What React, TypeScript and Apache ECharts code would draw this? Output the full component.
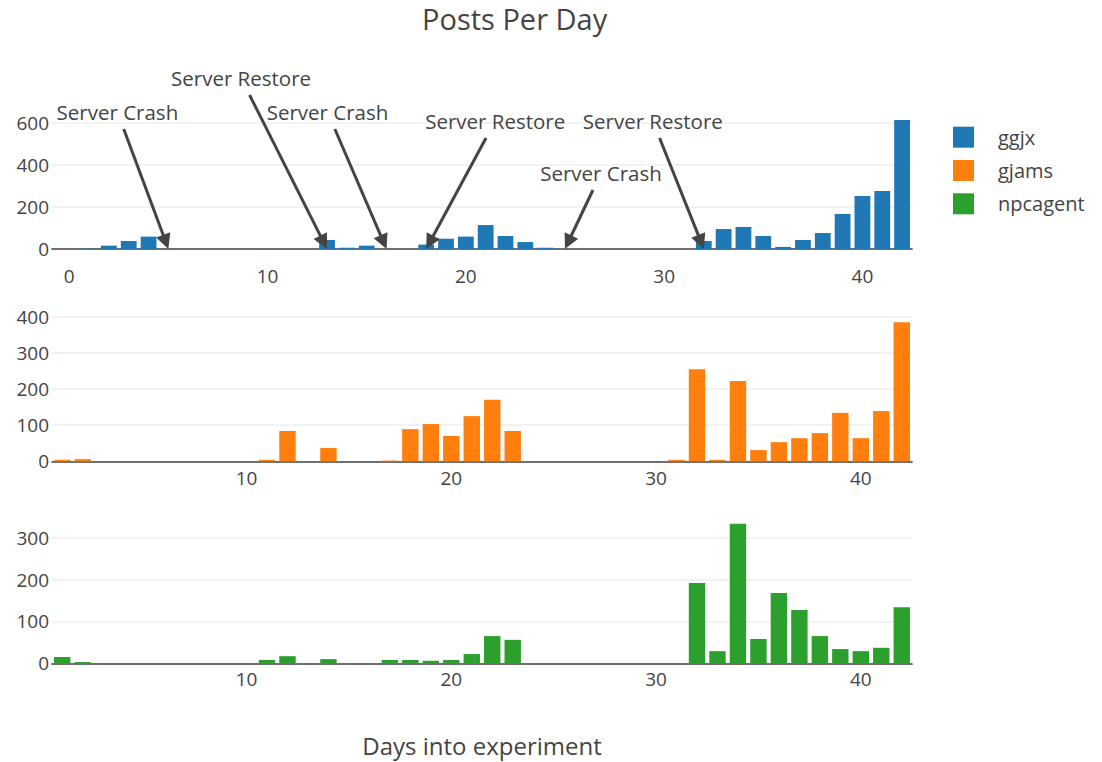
import React, { useEffect, useRef } from "react";
import * as echarts from "echarts";

// ---------- data ----------
const days = [
  1, 2, 3, 4, 5, 6, 7, 8, 9, 10, 11, 12, 13, 14, 15, 16, 17, 18, 19, 20, 21,
  22, 23, 24, 25, 26, 27, 28, 29, 30, 31, 32, 33, 34, 35, 36, 37, 38, 39, 40,
  41, 42,
];
const ggjx = [
  2, 16, 38, 59, 0, 0, 0, 0, 0, 0, 0, 0, 43, 6, 16, 0, 0, 21, 49, 59, 114, 62,
  33, 6, 0, 0, 0, 0, 0, 0, 0, 38, 95, 105, 62, 10, 43, 76, 167, 252, 276, 614,
];
const gjams = [
  4, 6, 0, 0, 0, 0, 0, 0, 0, 0, 4, 84, 0, 37, 0, 0, 2, 89, 103, 70, 125, 170,
  84, 0, 0, 0, 0, 0, 0, 0, 4, 255, 4, 222, 31, 53, 64, 78, 134, 64, 139, 385,
];
const npcagent = [
  15, 3, 0, 0, 0, 0, 0, 0, 0, 0, 8, 17, 0, 10, 0, 0, 8, 8, 6, 8, 22, 65, 56, 0,
  0, 0, 0, 0, 0, 0, 0, 192, 29, 333, 58, 168, 127, 65, 34, 29, 37, 134,
];
const seriesNames = ["ggjx", "gjams", "npcagent"];
const xTicksTop = [0, 10, 20, 30, 40];
const xTicksLower = [10, 20, 30, 40];
const yTicksTop = [0, 200, 400, 600];
const yTicksMid = [0, 100, 200, 300, 400];
const yTicksBottom = [0, 100, 200, 300];
const annotationDays = [5, 13, 16, 18, 25, 32];
const annotationLabels = [
  "Server Crash",
  "Server Restore",
  "Server Crash",
  "Server Restore",
  "Server Crash",
  "Server Restore",
];

// ---------- layout / style ----------
const annotationOffsets = [
  [-51, -137],
  [-86, -171],
  [-59, -137],
  [69, -128],
  [36, -76],
  [-51, -128],
];
const colors = ["#1f77b4", "#ff7f0e", "#2ca02c"];
const FONT = '"Open Sans", sans-serif';
const TXT = "#444";

function makeX(gridIndex: number, min: number, ticks: number[], margin: number, extra: any = {}) {
  return {
    gridIndex,
    type: "value",
    min,
    max: 42.5,
    axisLine: { show: true, onZero: true, lineStyle: { color: "#444", width: 1.7 } },
    axisTick: { show: false, customValues: ticks },
    splitLine: { show: false },
    axisLabel: { customValues: ticks, fontSize: 19, color: TXT, margin, fontFamily: FONT },
    ...extra,
  };
}

function makeY(gridIndex: number, max: number, ticks: number[]) {
  return {
    gridIndex,
    type: "value",
    min: 0,
    max,
    axisLine: { show: false },
    axisTick: { show: false, customValues: ticks },
    axisLabel: { customValues: ticks, fontSize: 19, color: TXT, margin: 3, fontFamily: FONT },
    splitLine: { show: true, lineStyle: { color: "#eee", width: 1.7 } },
  };
}

export default function App() {
  const ref = useRef<HTMLDivElement>(null);
  useEffect(() => {
    document.body.style.margin = "0";
    if (!ref.current) return;
    const chart = echarts.init(ref.current, undefined, { renderer: "svg" });
    const values = [ggjx, gjams, npcagent];
    const barWidths = [15.8, 16.4, 16.4];
    const option: any = {
      animation: false,
      textStyle: { fontFamily: FONT, color: TXT },
      title: {
        text: "Posts Per Day",
        left: 422,
        top: 4,
        padding: 0,
        textStyle: { fontSize: 29, fontWeight: "normal", color: TXT, fontFamily: FONT },
      },
      legend: {
        orient: "vertical",
        left: 953,
        top: 126.7,
        padding: 0,
        itemWidth: 21,
        itemHeight: 21,
        itemGap: 12.3,
        icon: "rect",
        data: seriesNames,
        textStyle: { fontSize: 20, color: TXT, fontFamily: FONT, padding: [0, 0, 0, 19] },
      },
      grid: [
        { left: 52, width: 860, top: 118.8, height: 130.2 },
        { left: 52, width: 860, top: 313.1, height: 148.2 },
        { left: 52, width: 860, top: 520.9, height: 142.4 },
      ],
      xAxis: [
        makeX(0, -0.87, xTicksTop, 17),
        makeX(1, 0.5, xTicksLower, 7),
        makeX(2, 0.5, xTicksLower, 6, {
          name: "Days into experiment",
          nameLocation: "middle",
          nameGap: 70,
          nameTextStyle: { fontSize: 24, color: TXT, fontFamily: FONT },
        }),
      ],
      yAxis: [makeY(0, 620, yTicksTop), makeY(1, 410, yTicksMid), makeY(2, 340, yTicksBottom)],
      series: seriesNames.map((name, i) => ({
        type: "bar",
        name,
        xAxisIndex: i,
        yAxisIndex: i,
        barWidth: barWidths[i],
        itemStyle: { color: colors[i] },
        data: days.map((d, k) => [d, values[i][k]]),
      })),
    };
    chart.setOption(option);

    const gfx: any[] = [];
    annotationDays.forEach((d, i) => {
      const [tx, ty] = chart.convertToPixel({ xAxisIndex: 0, yAxisIndex: 0 }, [d, 0]) as number[];
      const [ox, oy] = annotationOffsets[i];
      const cx = tx + ox;
      const cy = ty + oy;
      const dx = tx - cx;
      const dy = ty - cy;
      const len = Math.hypot(dx, dy);
      const ux = dx / len;
      const uy = dy / len;
      const t = 17 / Math.abs(dy);
      const sx = cx + dx * t;
      const sy = cy + dy * t;
      const L = 15;
      const W = 7.5;
      const bx = tx - ux * L;
      const by = ty - uy * L;
      const px = -uy;
      const py = ux;
      gfx.push({
        type: "line",
        z: 100,
        shape: { x1: sx, y1: sy, x2: bx + ux * 2, y2: by + uy * 2 },
        style: { stroke: "#444", lineWidth: 3 },
      });
      gfx.push({
        type: "polygon",
        z: 100,
        shape: {
          points: [
            [tx, ty],
            [bx + px * W, by + py * W],
            [bx - px * W, by - py * W],
          ],
        },
        style: { fill: "#444" },
      });
      gfx.push({
        type: "text",
        z: 100,
        x: cx,
        y: cy,
        style: {
          text: annotationLabels[i],
          fill: TXT,
          fontSize: 20.5,
          fontFamily: FONT,
          align: "center",
          verticalAlign: "middle",
          textAlign: "center",
          textVerticalAlign: "middle",
        },
      });
    });
    chart.setOption({ graphic: gfx });

    return () => chart.dispose();
  }, []);
  return <div ref={ref} style={{ width: 1102, height: 762 }} />;
}
